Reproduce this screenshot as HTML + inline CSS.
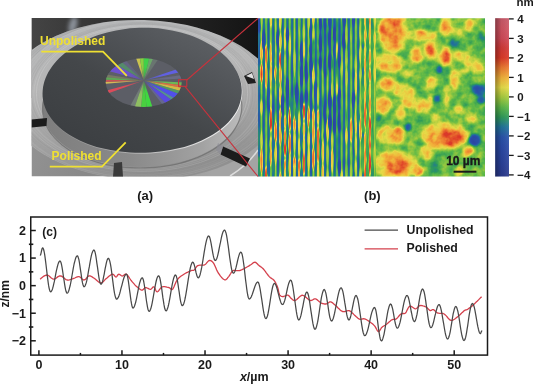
<!DOCTYPE html>
<html><head><meta charset="utf-8"><style>
html,body{margin:0;padding:0;background:#fff;width:533px;height:384px;overflow:hidden}
svg{display:block;position:absolute;left:0;top:0;will-change:transform}
text{font-family:"Liberation Sans",sans-serif;font-weight:bold;fill:#1a1a1a}
.t12{font-size:12.5px}
.t11{font-size:11.5px}
.ylab{font-size:12px;fill:#efe032}
</style></head><body>
<svg width="533" height="384" viewBox="0 0 533 384">
<defs>
<clipPath id="pclip"><rect x="31.5" y="18" width="226.5" height="158.5"/></clipPath><radialGradient id="cfade"><stop offset="0" stop-color="#5c5e66" stop-opacity="0.8"/><stop offset="0.3" stop-color="#5c5e66" stop-opacity="0.3"/><stop offset="0.7" stop-color="#5c5e66" stop-opacity="0"/></radialGradient><linearGradient id="rimg" x1="0" y1="0" x2="1" y2="0"><stop offset="0" stop-color="#8a8a8a"/><stop offset="0.45" stop-color="#b0b0b0"/><stop offset="0.8" stop-color="#e0e0e0"/><stop offset="1" stop-color="#f0f0f0"/></linearGradient><filter id="blur05" x="-10%" y="-10%" width="120%" height="120%"><feGaussianBlur stdDeviation="0.6"/></filter><clipPath id="ringclip"><ellipse cx="141.9" cy="100" rx="138.1" ry="80" transform="rotate(1.5 141.9 100)"/></clipPath><clipPath id="cclip"><ellipse cx="143.7" cy="82.6" rx="38" ry="24.3"/></clipPath><filter id="blur3" x="-100%" y="-100%" width="300%" height="300%"><feGaussianBlur stdDeviation="2.2"/></filter><linearGradient id="darkg" x1="0" y1="0" x2="1" y2="0"><stop offset="0" stop-color="#444444"/><stop offset="0.4" stop-color="#2e2e2e"/><stop offset="1" stop-color="#141414"/></linearGradient><linearGradient id="baseg" x1="0" y1="0" x2="1" y2="0.3"><stop offset="0" stop-color="#9a9a9a"/><stop offset="0.5" stop-color="#888888"/><stop offset="1" stop-color="#a4a4a4"/></linearGradient><linearGradient id="ringg" x1="0" y1="0" x2="0.3" y2="1"><stop offset="0" stop-color="#b2b4b6"/><stop offset="0.45" stop-color="#b6b6b6"/><stop offset="0.8" stop-color="#a0a0a0"/><stop offset="1" stop-color="#909090"/></linearGradient><linearGradient id="sideg" x1="0" y1="0" x2="1" y2="0"><stop offset="0" stop-color="#7e7e7e"/><stop offset="0.45" stop-color="#8a8a8a"/><stop offset="0.8" stop-color="#a2a2a2"/><stop offset="1" stop-color="#bcbcbc"/></linearGradient><linearGradient id="diskg" x1="0.15" y1="0.9" x2="0.85" y2="0.1"><stop offset="0" stop-color="#3c3f42"/><stop offset="0.45" stop-color="#44474a"/><stop offset="0.8" stop-color="#53565a"/><stop offset="1" stop-color="#5c5f63"/></linearGradient>
<linearGradient id="sg" x1="0" y1="0" x2="1" y2="0"><stop offset="0" stop-color="#363636"/><stop offset="0.25" stop-color="#636363"/><stop offset="0.5" stop-color="#808080"/><stop offset="0.75" stop-color="#636363"/><stop offset="1" stop-color="#363636"/></linearGradient><pattern id="stripes" patternUnits="userSpaceOnUse" x="259.1" y="0" width="4.72" height="200"><rect width="4.72" height="200" fill="url(#sg)"/></pattern>
<linearGradient id="cbg" x1="0" y1="0" x2="0" y2="1"><stop offset="0.0000" stop-color="#c85a6a"/><stop offset="0.0625" stop-color="#d05462"/><stop offset="0.1250" stop-color="#d04a58"/><stop offset="0.1875" stop-color="#d23a38"/><stop offset="0.2500" stop-color="#dc3a28"/><stop offset="0.3125" stop-color="#ec7a30"/><stop offset="0.3750" stop-color="#f2b23a"/><stop offset="0.4375" stop-color="#e6dc48"/><stop offset="0.5000" stop-color="#a6cc3e"/><stop offset="0.5625" stop-color="#5db848"/><stop offset="0.6250" stop-color="#2f9b5a"/><stop offset="0.6875" stop-color="#21749a"/><stop offset="0.7500" stop-color="#2953aa"/><stop offset="0.8125" stop-color="#2a4aa6"/><stop offset="0.8750" stop-color="#2a449e"/><stop offset="0.9375" stop-color="#2a3f96"/><stop offset="1.0000" stop-color="#2b3a8c"/></linearGradient><linearGradient id="cbs" x1="0" y1="0" x2="1" y2="0"><stop offset="0" stop-color="#000" stop-opacity="0.35"/><stop offset="0.45" stop-color="#000" stop-opacity="0.05"/><stop offset="1" stop-color="#fff" stop-opacity="0.08"/></linearGradient>
<clipPath id="hclipS"><rect x="258" y="18.2" width="118" height="158.3"/></clipPath>
<clipPath id="hclipB"><rect x="376" y="18.2" width="109" height="158.3"/></clipPath>
<filter id="soft" x="-100%" y="-100%" width="300%" height="300%"><feGaussianBlur stdDeviation="5"/></filter>
<filter id="cmapS" filterUnits="userSpaceOnUse" x="250" y="10" width="135" height="175" color-interpolation-filters="sRGB">
<feGaussianBlur stdDeviation="0.6 1.4" result="b"/>
<feTurbulence type="fractalNoise" baseFrequency="0.2 0.07" numOctaves="2" seed="5" result="n"/>
<feColorMatrix in="n" type="matrix" values="1 0 0 0 0  1 0 0 0 0  1 0 0 0 0  0 0 0 0 1" result="ng"/>
<feComposite in="b" in2="ng" operator="arithmetic" k1="0" k2="1" k3="0.12" k4="-0.06"/>
<feComponentTransfer>
<feFuncR type="table" tableValues="0.169 0.165 0.165 0.165 0.161 0.129 0.184 0.365 0.651 0.902 0.949 0.925 0.863 0.824 0.816 0.816 0.784"/>
<feFuncG type="table" tableValues="0.227 0.247 0.267 0.290 0.325 0.455 0.608 0.722 0.800 0.863 0.698 0.478 0.227 0.227 0.290 0.329 0.353"/>
<feFuncB type="table" tableValues="0.549 0.588 0.620 0.651 0.667 0.604 0.353 0.282 0.243 0.282 0.227 0.188 0.157 0.220 0.345 0.384 0.416"/>
</feComponentTransfer>
</filter>
<filter id="cmapB" filterUnits="userSpaceOnUse" x="365" y="10" width="130" height="175" color-interpolation-filters="sRGB">
<feGaussianBlur stdDeviation="1.8" result="b"/>
<feTurbulence type="fractalNoise" baseFrequency="0.12" numOctaves="3" seed="2" result="n"/>
<feColorMatrix in="n" type="matrix" values="1 0 0 0 0  1 0 0 0 0  1 0 0 0 0  0 0 0 0 1" result="ng"/>
<feComposite in="b" in2="ng" operator="arithmetic" k1="0" k2="1" k3="0.2" k4="-0.1"/>
<feComponentTransfer>
<feFuncR type="table" tableValues="0.169 0.165 0.165 0.165 0.161 0.129 0.184 0.365 0.651 0.902 0.949 0.925 0.863 0.824 0.816 0.816 0.784"/>
<feFuncG type="table" tableValues="0.227 0.247 0.267 0.290 0.325 0.455 0.608 0.722 0.800 0.863 0.698 0.478 0.227 0.227 0.290 0.329 0.353"/>
<feFuncB type="table" tableValues="0.549 0.588 0.620 0.651 0.667 0.604 0.353 0.282 0.243 0.282 0.227 0.188 0.157 0.220 0.345 0.384 0.416"/>
</feComponentTransfer>
</filter>
</defs>
<g clip-path="url(#hclipS)"><g filter="url(#cmapS)">
<rect x="254" y="14.2" width="126" height="166.3" fill="url(#stripes)"/>
<ellipse cx="333" cy="35" rx="14" ry="20" fill="#393939" opacity="0.4" filter="url(#soft)"/>
<ellipse cx="300" cy="105" rx="45" ry="12" fill="#393939" opacity="0.35" filter="url(#soft)"/>
<ellipse cx="335" cy="140" rx="8" ry="30" fill="#404040" opacity="0.3" filter="url(#soft)"/>
<ellipse cx="372" cy="95" rx="6" ry="80" fill="#868686" opacity="0.5" filter="url(#soft)"/>
<ellipse cx="254.38" cy="138.8" rx="1.7" ry="10.3" fill="#4d4d4d"/>
<ellipse cx="254.38" cy="160.0" rx="1.7" ry="6.4" fill="#515151"/>
<ellipse cx="256.74" cy="18.2" rx="1.3" ry="10.5" fill="#8d8d8d"/>
<ellipse cx="256.74" cy="57.4" rx="1.3" ry="11.9" fill="#9b9b9b"/>
<ellipse cx="256.74" cy="80.8" rx="1.3" ry="8.0" fill="#b1b1b1"/>
<ellipse cx="256.74" cy="97.1" rx="1.3" ry="11.9" fill="#989898"/>
<ellipse cx="256.74" cy="122.5" rx="1.3" ry="6.0" fill="#b8b8b8"/>
<ellipse cx="256.74" cy="134.9" rx="1.3" ry="12.9" fill="#909090"/>
<ellipse cx="256.74" cy="161.5" rx="1.3" ry="11.4" fill="#909090"/>
<ellipse cx="259.10" cy="21.7" rx="1.7" ry="11.3" fill="#313131"/>
<ellipse cx="259.10" cy="75.4" rx="1.7" ry="11.1" fill="#595959"/>
<ellipse cx="259.10" cy="140.2" rx="1.7" ry="12.2" fill="#545454"/>
<ellipse cx="259.10" cy="166.2" rx="1.7" ry="10.5" fill="#5f5f5f"/>
<ellipse cx="261.46" cy="16.1" rx="1.3" ry="11.4" fill="#808080"/>
<ellipse cx="261.46" cy="51.1" rx="1.3" ry="10.2" fill="#a2a2a2"/>
<ellipse cx="261.46" cy="73.4" rx="1.3" ry="9.4" fill="#b6b6b6"/>
<ellipse cx="261.46" cy="107.3" rx="1.3" ry="7.7" fill="#909090"/>
<ellipse cx="261.46" cy="141.0" rx="1.3" ry="10.2" fill="#919191"/>
<ellipse cx="261.46" cy="160.6" rx="1.3" ry="12.7" fill="#aeaeae"/>
<ellipse cx="263.82" cy="40.5" rx="1.7" ry="11.0" fill="#313131"/>
<ellipse cx="266.18" cy="18.7" rx="1.3" ry="7.0" fill="#777777"/>
<ellipse cx="266.18" cy="55.2" rx="1.3" ry="10.5" fill="#afafaf"/>
<ellipse cx="266.18" cy="76.1" rx="1.3" ry="13.0" fill="#a6a6a6"/>
<ellipse cx="266.18" cy="175.4" rx="1.3" ry="8.9" fill="#b6b6b6"/>
<ellipse cx="268.54" cy="99.4" rx="1.7" ry="11.9" fill="#3b3b3b"/>
<ellipse cx="268.54" cy="164.9" rx="1.7" ry="12.4" fill="#4d4d4d"/>
<ellipse cx="270.90" cy="19.4" rx="1.3" ry="7.4" fill="#969696"/>
<ellipse cx="270.90" cy="53.4" rx="1.3" ry="10.7" fill="#a1a1a1"/>
<ellipse cx="270.90" cy="76.1" rx="1.3" ry="12.4" fill="#9f9f9f"/>
<ellipse cx="270.90" cy="101.7" rx="1.3" ry="8.2" fill="#878787"/>
<ellipse cx="270.90" cy="119.6" rx="1.3" ry="11.9" fill="#bababa"/>
<ellipse cx="270.90" cy="143.4" rx="1.3" ry="7.2" fill="#999999"/>
<ellipse cx="270.90" cy="157.4" rx="1.3" ry="8.9" fill="#a4a4a4"/>
<ellipse cx="273.26" cy="48.0" rx="1.7" ry="11.5" fill="#4f4f4f"/>
<ellipse cx="273.26" cy="83.5" rx="1.7" ry="7.0" fill="#595959"/>
<ellipse cx="273.26" cy="145.1" rx="1.7" ry="9.3" fill="#4d4d4d"/>
<ellipse cx="273.26" cy="164.2" rx="1.7" ry="11.0" fill="#525252"/>
<ellipse cx="275.62" cy="73.7" rx="1.3" ry="6.9" fill="#aaaaaa"/>
<ellipse cx="275.62" cy="131.8" rx="1.3" ry="10.6" fill="#afafaf"/>
<ellipse cx="275.62" cy="154.3" rx="1.3" ry="10.5" fill="#969696"/>
<ellipse cx="277.98" cy="38.4" rx="1.7" ry="8.4" fill="#353535"/>
<ellipse cx="277.98" cy="77.7" rx="1.7" ry="11.7" fill="#5c5c5c"/>
<ellipse cx="280.34" cy="19.8" rx="1.3" ry="10.5" fill="#949494"/>
<ellipse cx="280.34" cy="41.5" rx="1.3" ry="8.2" fill="#949494"/>
<ellipse cx="280.34" cy="59.5" rx="1.3" ry="7.5" fill="#bbbbbb"/>
<ellipse cx="280.34" cy="75.0" rx="1.3" ry="10.0" fill="#a6a6a6"/>
<ellipse cx="280.34" cy="95.5" rx="1.3" ry="10.2" fill="#989898"/>
<ellipse cx="280.34" cy="116.6" rx="1.3" ry="8.8" fill="#a7a7a7"/>
<ellipse cx="280.34" cy="134.6" rx="1.3" ry="10.8" fill="#a6a6a6"/>
<ellipse cx="280.34" cy="181.8" rx="1.3" ry="9.3" fill="#a1a1a1"/>
<ellipse cx="282.70" cy="59.5" rx="1.7" ry="11.5" fill="#505050"/>
<ellipse cx="282.70" cy="103.8" rx="1.7" ry="10.3" fill="#3b3b3b"/>
<ellipse cx="282.70" cy="123.8" rx="1.7" ry="9.6" fill="#505050"/>
<ellipse cx="282.70" cy="161.9" rx="1.7" ry="9.7" fill="#505050"/>
<ellipse cx="285.06" cy="39.4" rx="1.3" ry="12.0" fill="#909090"/>
<ellipse cx="285.06" cy="64.8" rx="1.3" ry="12.3" fill="#818181"/>
<ellipse cx="285.06" cy="107.9" rx="1.3" ry="6.9" fill="#6e6e6e"/>
<ellipse cx="285.06" cy="121.6" rx="1.3" ry="6.7" fill="#a0a0a0"/>
<ellipse cx="285.06" cy="136.3" rx="1.3" ry="6.9" fill="#adadad"/>
<ellipse cx="285.06" cy="149.1" rx="1.3" ry="7.4" fill="#b8b8b8"/>
<ellipse cx="285.06" cy="165.8" rx="1.3" ry="6.8" fill="#b0b0b0"/>
<ellipse cx="285.06" cy="179.9" rx="1.3" ry="10.8" fill="#909090"/>
<ellipse cx="287.42" cy="34.7" rx="1.7" ry="7.0" fill="#313131"/>
<ellipse cx="287.42" cy="88.7" rx="1.7" ry="11.4" fill="#2e2e2e"/>
<ellipse cx="287.42" cy="168.9" rx="1.7" ry="7.4" fill="#565656"/>
<ellipse cx="289.78" cy="46.0" rx="1.3" ry="10.4" fill="#8b8b8b"/>
<ellipse cx="289.78" cy="118.9" rx="1.3" ry="11.7" fill="#b7b7b7"/>
<ellipse cx="289.78" cy="143.9" rx="1.3" ry="10.9" fill="#b1b1b1"/>
<ellipse cx="289.78" cy="165.9" rx="1.3" ry="11.1" fill="#9d9d9d"/>
<ellipse cx="292.14" cy="109.4" rx="1.7" ry="12.9" fill="#585858"/>
<ellipse cx="294.50" cy="61.6" rx="1.3" ry="12.5" fill="#868686"/>
<ellipse cx="294.50" cy="86.2" rx="1.3" ry="9.5" fill="#616161"/>
<ellipse cx="294.50" cy="106.9" rx="1.3" ry="8.9" fill="#6b6b6b"/>
<ellipse cx="294.50" cy="124.9" rx="1.3" ry="8.0" fill="#a7a7a7"/>
<ellipse cx="294.50" cy="140.8" rx="1.3" ry="11.0" fill="#8d8d8d"/>
<ellipse cx="294.50" cy="162.5" rx="1.3" ry="6.3" fill="#b0b0b0"/>
<ellipse cx="294.50" cy="175.3" rx="1.3" ry="12.3" fill="#8f8f8f"/>
<ellipse cx="296.86" cy="93.8" rx="1.7" ry="10.2" fill="#303030"/>
<ellipse cx="296.86" cy="114.6" rx="1.7" ry="7.4" fill="#575757"/>
<ellipse cx="299.22" cy="21.6" rx="1.3" ry="11.1" fill="#7a7a7a"/>
<ellipse cx="299.22" cy="68.6" rx="1.3" ry="7.9" fill="#6a6a6a"/>
<ellipse cx="299.22" cy="122.9" rx="1.3" ry="12.2" fill="#8f8f8f"/>
<ellipse cx="299.22" cy="147.0" rx="1.3" ry="9.0" fill="#919191"/>
<ellipse cx="299.22" cy="165.6" rx="1.3" ry="6.5" fill="#adadad"/>
<ellipse cx="299.22" cy="179.2" rx="1.3" ry="10.4" fill="#a3a3a3"/>
<ellipse cx="301.58" cy="52.9" rx="1.7" ry="11.4" fill="#2d2d2d"/>
<ellipse cx="301.58" cy="75.5" rx="1.7" ry="11.7" fill="#313131"/>
<ellipse cx="301.58" cy="100.8" rx="1.7" ry="8.3" fill="#323232"/>
<ellipse cx="301.58" cy="136.4" rx="1.7" ry="12.1" fill="#4e4e4e"/>
<ellipse cx="301.58" cy="180.0" rx="1.7" ry="11.4" fill="#515151"/>
<ellipse cx="303.94" cy="32.0" rx="1.3" ry="8.0" fill="#828282"/>
<ellipse cx="303.94" cy="49.1" rx="1.3" ry="8.6" fill="#8f8f8f"/>
<ellipse cx="303.94" cy="111.6" rx="1.3" ry="8.2" fill="#b9b9b9"/>
<ellipse cx="303.94" cy="129.7" rx="1.3" ry="7.7" fill="#9e9e9e"/>
<ellipse cx="303.94" cy="145.3" rx="1.3" ry="8.8" fill="#969696"/>
<ellipse cx="303.94" cy="163.5" rx="1.3" ry="11.6" fill="#b4b4b4"/>
<ellipse cx="306.30" cy="71.7" rx="1.7" ry="11.6" fill="#2f2f2f"/>
<ellipse cx="306.30" cy="96.3" rx="1.7" ry="6.6" fill="#323232"/>
<ellipse cx="308.66" cy="21.7" rx="1.3" ry="10.7" fill="#898989"/>
<ellipse cx="308.66" cy="66.5" rx="1.3" ry="11.8" fill="#707070"/>
<ellipse cx="308.66" cy="117.0" rx="1.3" ry="10.5" fill="#aeaeae"/>
<ellipse cx="308.66" cy="139.4" rx="1.3" ry="9.0" fill="#939393"/>
<ellipse cx="308.66" cy="158.5" rx="1.3" ry="12.9" fill="#949494"/>
<ellipse cx="311.02" cy="32.7" rx="1.7" ry="8.2" fill="#393939"/>
<ellipse cx="311.02" cy="50.3" rx="1.7" ry="7.3" fill="#353535"/>
<ellipse cx="311.02" cy="65.6" rx="1.7" ry="12.4" fill="#282828"/>
<ellipse cx="311.02" cy="125.9" rx="1.7" ry="8.0" fill="#5b5b5b"/>
<ellipse cx="313.38" cy="17.9" rx="1.3" ry="7.5" fill="#979797"/>
<ellipse cx="313.38" cy="34.4" rx="1.3" ry="8.7" fill="#888888"/>
<ellipse cx="313.38" cy="51.6" rx="1.3" ry="12.9" fill="#646464"/>
<ellipse cx="313.38" cy="76.5" rx="1.3" ry="9.3" fill="#929292"/>
<ellipse cx="313.38" cy="96.2" rx="1.3" ry="10.2" fill="#7b7b7b"/>
<ellipse cx="313.38" cy="116.7" rx="1.3" ry="7.8" fill="#a5a5a5"/>
<ellipse cx="313.38" cy="133.2" rx="1.3" ry="13.0" fill="#a6a6a6"/>
<ellipse cx="313.38" cy="158.6" rx="1.3" ry="11.4" fill="#b4b4b4"/>
<ellipse cx="315.74" cy="92.1" rx="1.7" ry="12.4" fill="#3c3c3c"/>
<ellipse cx="318.10" cy="14.8" rx="1.3" ry="8.8" fill="#727272"/>
<ellipse cx="318.10" cy="33.9" rx="1.3" ry="10.6" fill="#676767"/>
<ellipse cx="318.10" cy="56.1" rx="1.3" ry="7.7" fill="#686868"/>
<ellipse cx="318.10" cy="96.0" rx="1.3" ry="10.3" fill="#838383"/>
<ellipse cx="318.10" cy="117.2" rx="1.3" ry="8.1" fill="#9f9f9f"/>
<ellipse cx="318.10" cy="134.4" rx="1.3" ry="7.8" fill="#afafaf"/>
<ellipse cx="318.10" cy="150.0" rx="1.3" ry="12.6" fill="#afafaf"/>
<ellipse cx="318.10" cy="175.2" rx="1.3" ry="11.8" fill="#939393"/>
<ellipse cx="320.46" cy="19.4" rx="1.7" ry="11.0" fill="#2d2d2d"/>
<ellipse cx="320.46" cy="42.8" rx="1.7" ry="10.1" fill="#2a2a2a"/>
<ellipse cx="320.46" cy="62.6" rx="1.7" ry="6.9" fill="#272727"/>
<ellipse cx="322.82" cy="19.2" rx="1.3" ry="6.7" fill="#696969"/>
<ellipse cx="322.82" cy="34.1" rx="1.3" ry="11.8" fill="#636363"/>
<ellipse cx="322.82" cy="58.9" rx="1.3" ry="12.3" fill="#666666"/>
<ellipse cx="322.82" cy="136.4" rx="1.3" ry="7.4" fill="#7f7f7f"/>
<ellipse cx="322.82" cy="151.9" rx="1.3" ry="10.9" fill="#979797"/>
<ellipse cx="322.82" cy="173.7" rx="1.3" ry="9.2" fill="#989898"/>
<ellipse cx="325.18" cy="21.2" rx="1.7" ry="9.8" fill="#2f2f2f"/>
<ellipse cx="325.18" cy="66.8" rx="1.7" ry="10.2" fill="#333333"/>
<ellipse cx="325.18" cy="112.4" rx="1.7" ry="11.8" fill="#2f2f2f"/>
<ellipse cx="325.18" cy="135.2" rx="1.7" ry="6.2" fill="#404040"/>
<ellipse cx="327.54" cy="20.4" rx="1.3" ry="6.1" fill="#696969"/>
<ellipse cx="327.54" cy="32.1" rx="1.3" ry="8.7" fill="#636363"/>
<ellipse cx="327.54" cy="65.7" rx="1.3" ry="10.5" fill="#6c6c6c"/>
<ellipse cx="327.54" cy="112.0" rx="1.3" ry="8.9" fill="#6d6d6d"/>
<ellipse cx="327.54" cy="131.0" rx="1.3" ry="11.3" fill="#999999"/>
<ellipse cx="327.54" cy="155.1" rx="1.3" ry="12.0" fill="#858585"/>
<ellipse cx="327.54" cy="179.7" rx="1.3" ry="12.3" fill="#888888"/>
<ellipse cx="329.90" cy="21.2" rx="1.7" ry="8.2" fill="#323232"/>
<ellipse cx="329.90" cy="39.4" rx="1.7" ry="11.1" fill="#323232"/>
<ellipse cx="329.90" cy="61.6" rx="1.7" ry="10.2" fill="#282828"/>
<ellipse cx="329.90" cy="100.4" rx="1.7" ry="10.9" fill="#2a2a2a"/>
<ellipse cx="329.90" cy="122.1" rx="1.7" ry="8.8" fill="#272727"/>
<ellipse cx="332.26" cy="39.2" rx="1.3" ry="11.5" fill="#6a6a6a"/>
<ellipse cx="332.26" cy="64.1" rx="1.3" ry="6.0" fill="#656565"/>
<ellipse cx="332.26" cy="90.5" rx="1.3" ry="8.8" fill="#8a8a8a"/>
<ellipse cx="332.26" cy="140.4" rx="1.3" ry="9.3" fill="#808080"/>
<ellipse cx="332.26" cy="160.8" rx="1.3" ry="12.3" fill="#939393"/>
<ellipse cx="334.62" cy="34.2" rx="1.7" ry="7.4" fill="#292929"/>
<ellipse cx="334.62" cy="50.6" rx="1.7" ry="6.4" fill="#3b3b3b"/>
<ellipse cx="334.62" cy="104.7" rx="1.7" ry="9.1" fill="#2a2a2a"/>
<ellipse cx="334.62" cy="122.9" rx="1.7" ry="11.0" fill="#292929"/>
<ellipse cx="336.98" cy="33.0" rx="1.3" ry="7.9" fill="#616161"/>
<ellipse cx="336.98" cy="50.9" rx="1.3" ry="9.1" fill="#898989"/>
<ellipse cx="336.98" cy="68.2" rx="1.3" ry="10.2" fill="#646464"/>
<ellipse cx="336.98" cy="90.0" rx="1.3" ry="6.6" fill="#909090"/>
<ellipse cx="336.98" cy="102.9" rx="1.3" ry="8.0" fill="#636363"/>
<ellipse cx="336.98" cy="120.5" rx="1.3" ry="12.9" fill="#686868"/>
<ellipse cx="339.34" cy="57.1" rx="1.7" ry="11.5" fill="#303030"/>
<ellipse cx="339.34" cy="99.2" rx="1.7" ry="11.5" fill="#2e2e2e"/>
<ellipse cx="339.34" cy="122.0" rx="1.7" ry="10.1" fill="#272727"/>
<ellipse cx="339.34" cy="166.5" rx="1.7" ry="7.3" fill="#2d2d2d"/>
<ellipse cx="341.70" cy="53.4" rx="1.3" ry="7.0" fill="#777777"/>
<ellipse cx="341.70" cy="67.4" rx="1.3" ry="10.3" fill="#7f7f7f"/>
<ellipse cx="341.70" cy="101.6" rx="1.3" ry="7.8" fill="#6d6d6d"/>
<ellipse cx="341.70" cy="118.7" rx="1.3" ry="11.5" fill="#676767"/>
<ellipse cx="341.70" cy="176.8" rx="1.3" ry="7.0" fill="#909090"/>
<ellipse cx="344.06" cy="15.9" rx="1.7" ry="12.2" fill="#2d2d2d"/>
<ellipse cx="344.06" cy="40.3" rx="1.7" ry="9.0" fill="#272727"/>
<ellipse cx="346.42" cy="35.3" rx="1.3" ry="11.5" fill="#828282"/>
<ellipse cx="346.42" cy="57.8" rx="1.3" ry="9.8" fill="#7d7d7d"/>
<ellipse cx="346.42" cy="77.2" rx="1.3" ry="9.3" fill="#868686"/>
<ellipse cx="346.42" cy="118.8" rx="1.3" ry="8.7" fill="#6d6d6d"/>
<ellipse cx="346.42" cy="136.3" rx="1.3" ry="7.9" fill="#959595"/>
<ellipse cx="346.42" cy="170.5" rx="1.3" ry="7.9" fill="#7b7b7b"/>
<ellipse cx="351.14" cy="34.3" rx="1.3" ry="8.0" fill="#7e7e7e"/>
<ellipse cx="351.14" cy="130.4" rx="1.3" ry="12.1" fill="#aaaaaa"/>
<ellipse cx="351.14" cy="153.8" rx="1.3" ry="9.0" fill="#787878"/>
<ellipse cx="351.14" cy="171.9" rx="1.3" ry="8.3" fill="#808080"/>
<ellipse cx="353.50" cy="17.2" rx="1.7" ry="9.3" fill="#393939"/>
<ellipse cx="353.50" cy="99.9" rx="1.7" ry="8.8" fill="#363636"/>
<ellipse cx="355.86" cy="64.2" rx="1.3" ry="8.9" fill="#808080"/>
<ellipse cx="355.86" cy="83.4" rx="1.3" ry="12.2" fill="#969696"/>
<ellipse cx="355.86" cy="106.9" rx="1.3" ry="7.0" fill="#818181"/>
<ellipse cx="355.86" cy="120.9" rx="1.3" ry="12.8" fill="#959595"/>
<ellipse cx="355.86" cy="146.2" rx="1.3" ry="10.8" fill="#8c8c8c"/>
<ellipse cx="355.86" cy="168.4" rx="1.3" ry="8.8" fill="#878787"/>
<ellipse cx="358.22" cy="115.4" rx="1.7" ry="11.8" fill="#585858"/>
<ellipse cx="360.58" cy="18.1" rx="1.3" ry="6.9" fill="#787878"/>
<ellipse cx="360.58" cy="31.2" rx="1.3" ry="10.9" fill="#868686"/>
<ellipse cx="360.58" cy="54.4" rx="1.3" ry="9.4" fill="#949494"/>
<ellipse cx="360.58" cy="74.7" rx="1.3" ry="6.4" fill="#888888"/>
<ellipse cx="360.58" cy="106.1" rx="1.3" ry="11.0" fill="#828282"/>
<ellipse cx="360.58" cy="129.4" rx="1.3" ry="11.9" fill="#a7a7a7"/>
<ellipse cx="360.58" cy="176.8" rx="1.3" ry="11.6" fill="#838383"/>
<ellipse cx="362.94" cy="15.8" rx="1.7" ry="7.3" fill="#666666"/>
<ellipse cx="362.94" cy="32.3" rx="1.7" ry="12.8" fill="#676767"/>
<ellipse cx="362.94" cy="58.1" rx="1.7" ry="10.4" fill="#6b6b6b"/>
<ellipse cx="362.94" cy="80.9" rx="1.7" ry="6.3" fill="#5e5e5e"/>
<ellipse cx="362.94" cy="92.7" rx="1.7" ry="8.0" fill="#6c6c6c"/>
<ellipse cx="362.94" cy="108.1" rx="1.7" ry="8.3" fill="#656565"/>
<ellipse cx="362.94" cy="125.2" rx="1.7" ry="8.6" fill="#696969"/>
<ellipse cx="362.94" cy="143.9" rx="1.7" ry="8.0" fill="#666666"/>
<ellipse cx="362.94" cy="161.2" rx="1.7" ry="12.9" fill="#676767"/>
<ellipse cx="365.30" cy="20.4" rx="1.3" ry="7.0" fill="#979797"/>
<ellipse cx="365.30" cy="36.3" rx="1.3" ry="7.8" fill="#989898"/>
<ellipse cx="365.30" cy="51.7" rx="1.3" ry="6.1" fill="#999999"/>
<ellipse cx="365.30" cy="64.9" rx="1.3" ry="7.9" fill="#a7a7a7"/>
<ellipse cx="365.30" cy="80.8" rx="1.3" ry="7.8" fill="#959595"/>
<ellipse cx="365.30" cy="98.1" rx="1.3" ry="8.2" fill="#9a9a9a"/>
<ellipse cx="365.30" cy="114.9" rx="1.3" ry="13.0" fill="#b7b7b7"/>
<ellipse cx="365.30" cy="141.3" rx="1.3" ry="8.9" fill="#a3a3a3"/>
<ellipse cx="365.30" cy="158.3" rx="1.3" ry="9.9" fill="#acacac"/>
<ellipse cx="365.30" cy="177.8" rx="1.3" ry="12.6" fill="#bcbcbc"/>
<ellipse cx="367.66" cy="20.7" rx="1.7" ry="11.1" fill="#5d5d5d"/>
<ellipse cx="367.66" cy="42.3" rx="1.7" ry="6.8" fill="#626262"/>
<ellipse cx="367.66" cy="57.2" rx="1.7" ry="8.2" fill="#5d5d5d"/>
<ellipse cx="367.66" cy="73.2" rx="1.7" ry="12.7" fill="#656565"/>
<ellipse cx="367.66" cy="100.1" rx="1.7" ry="11.5" fill="#636363"/>
<ellipse cx="367.66" cy="124.6" rx="1.7" ry="11.8" fill="#6c6c6c"/>
<ellipse cx="367.66" cy="147.5" rx="1.7" ry="12.7" fill="#686868"/>
<ellipse cx="367.66" cy="172.5" rx="1.7" ry="12.4" fill="#666666"/>
<ellipse cx="370.02" cy="17.1" rx="1.3" ry="8.6" fill="#b4b4b4"/>
<ellipse cx="370.02" cy="34.4" rx="1.3" ry="10.5" fill="#9e9e9e"/>
<ellipse cx="370.02" cy="57.0" rx="1.3" ry="8.3" fill="#a0a0a0"/>
<ellipse cx="370.02" cy="74.7" rx="1.3" ry="7.5" fill="#a9a9a9"/>
<ellipse cx="370.02" cy="90.7" rx="1.3" ry="7.2" fill="#999999"/>
<ellipse cx="370.02" cy="105.3" rx="1.3" ry="9.0" fill="#a7a7a7"/>
<ellipse cx="370.02" cy="123.5" rx="1.3" ry="8.3" fill="#bababa"/>
<ellipse cx="370.02" cy="139.6" rx="1.3" ry="12.2" fill="#b2b2b2"/>
<ellipse cx="370.02" cy="163.3" rx="1.3" ry="12.9" fill="#bbbbbb"/>
<ellipse cx="372.38" cy="17.3" rx="1.7" ry="10.9" fill="#636363"/>
<ellipse cx="372.38" cy="40.2" rx="1.7" ry="12.6" fill="#626262"/>
<ellipse cx="372.38" cy="65.5" rx="1.7" ry="12.9" fill="#686868"/>
<ellipse cx="372.38" cy="91.5" rx="1.7" ry="10.5" fill="#676767"/>
<ellipse cx="372.38" cy="114.2" rx="1.7" ry="12.0" fill="#666666"/>
<ellipse cx="372.38" cy="138.9" rx="1.7" ry="6.8" fill="#686868"/>
<ellipse cx="372.38" cy="152.8" rx="1.7" ry="10.7" fill="#656565"/>
<ellipse cx="372.38" cy="173.8" rx="1.7" ry="10.2" fill="#666666"/>
<ellipse cx="374.74" cy="19.0" rx="1.3" ry="9.1" fill="#8b8b8b"/>
<ellipse cx="374.74" cy="39.1" rx="1.3" ry="7.1" fill="#929292"/>
<ellipse cx="374.74" cy="54.4" rx="1.3" ry="8.2" fill="#929292"/>
<ellipse cx="374.74" cy="71.0" rx="1.3" ry="12.1" fill="#929292"/>
<ellipse cx="374.74" cy="156.7" rx="1.3" ry="12.1" fill="#848484"/>
</g></g>
<g clip-path="url(#hclipB)"><g filter="url(#cmapB)">
<rect x="370" y="14.2" width="123" height="166.3" fill="#717171"/>
<ellipse cx="393" cy="32" rx="15" ry="18.75" fill="#939393"/>
<ellipse cx="398" cy="21" rx="8.75" ry="6.25" fill="#939393"/>
<ellipse cx="393" cy="45" rx="11.25" ry="7.5" fill="#939393"/>
<ellipse cx="390" cy="31" rx="11.88" ry="12.96" fill="#a9a9a9"/>
<ellipse cx="397" cy="22" rx="5.4" ry="4.32" fill="#afafaf"/>
<ellipse cx="384" cy="31" rx="4.32" ry="4.32" fill="#b2b2b2"/>
<ellipse cx="392" cy="44" rx="7.56" ry="5.4" fill="#a6a6a6"/>
<ellipse cx="421" cy="35" rx="15" ry="6.25" fill="#939393"/>
<ellipse cx="422" cy="33" rx="3.24" ry="3.24" fill="#a6a6a6"/>
<ellipse cx="417" cy="55" rx="7.5" ry="8.75" fill="#939393"/>
<ellipse cx="417" cy="55" rx="4.32" ry="5.4" fill="#acacac"/>
<ellipse cx="431" cy="50" rx="7.5" ry="10" fill="#939393"/>
<ellipse cx="431" cy="50" rx="4.32" ry="6.48" fill="#b2b2b2"/>
<ellipse cx="389" cy="63" rx="16.25" ry="8.75" fill="#939393"/>
<ellipse cx="383" cy="65" rx="4.32" ry="3.24" fill="#a9a9a9"/>
<ellipse cx="396" cy="65" rx="4.32" ry="3.24" fill="#a9a9a9"/>
<ellipse cx="408" cy="73" rx="6.25" ry="3.75" fill="#939393"/>
<ellipse cx="388" cy="84" rx="10" ry="7.5" fill="#939393"/>
<ellipse cx="388" cy="84" rx="6.48" ry="4.32" fill="#acacac"/>
<ellipse cx="401" cy="90" rx="8.75" ry="6.25" fill="#939393"/>
<ellipse cx="409" cy="92" rx="6.25" ry="5" fill="#939393"/>
<ellipse cx="445.5" cy="26" rx="6.25" ry="11.25" fill="#939393"/>
<ellipse cx="445.7" cy="26" rx="3.24" ry="5.4" fill="#a6a6a6"/>
<ellipse cx="455" cy="31" rx="7.5" ry="3.75" fill="#939393"/>
<ellipse cx="469.7" cy="25" rx="5" ry="7.5" fill="#939393"/>
<ellipse cx="469.7" cy="24" rx="2.7" ry="3.78" fill="#a6a6a6"/>
<ellipse cx="446" cy="57" rx="7.5" ry="10" fill="#939393"/>
<ellipse cx="446" cy="57" rx="4.32" ry="6.48" fill="#b6b6b6"/>
<ellipse cx="461" cy="56" rx="8.75" ry="5" fill="#939393"/>
<ellipse cx="470" cy="62" rx="8.75" ry="5" fill="#939393"/>
<ellipse cx="478" cy="69" rx="7.5" ry="5" fill="#939393"/>
<ellipse cx="455" cy="79" rx="5" ry="10" fill="#939393"/>
<ellipse cx="432" cy="83" rx="5" ry="6.25" fill="#939393"/>
<ellipse cx="465" cy="70" rx="5" ry="2.5" fill="#939393"/>
<ellipse cx="447" cy="89" rx="3.125" ry="5" fill="#939393"/>
<ellipse cx="382" cy="105" rx="10" ry="10" fill="#939393"/>
<ellipse cx="382" cy="104" rx="5.4" ry="5.4" fill="#a6a6a6"/>
<ellipse cx="400" cy="113" rx="5" ry="7.5" fill="#939393"/>
<ellipse cx="413" cy="104" rx="11.25" ry="5" fill="#939393"/>
<ellipse cx="423" cy="106" rx="8.75" ry="7.5" fill="#939393"/>
<ellipse cx="407" cy="99" rx="7.5" ry="3.75" fill="#939393"/>
<ellipse cx="392" cy="135" rx="15" ry="10" fill="#939393"/>
<ellipse cx="397" cy="135" rx="5.4" ry="7.56" fill="#acacac"/>
<ellipse cx="385" cy="132" rx="6.25" ry="3.75" fill="#939393"/>
<ellipse cx="396" cy="165" rx="22.5" ry="15" fill="#939393"/>
<ellipse cx="397" cy="166" rx="9.72" ry="8.64" fill="#b9b9b9"/>
<ellipse cx="390" cy="160" rx="6.48" ry="4.32" fill="#a6a6a6"/>
<ellipse cx="405" cy="168" rx="5.4" ry="5.4" fill="#acacac"/>
<ellipse cx="426" cy="152" rx="7.5" ry="7.5" fill="#939393"/>
<ellipse cx="417" cy="171" rx="6.48" ry="5.4" fill="#a3a3a3"/>
<ellipse cx="445" cy="136" rx="23.75" ry="13.75" fill="#939393"/>
<ellipse cx="436" cy="120" rx="5" ry="6.25" fill="#939393"/>
<ellipse cx="450" cy="137" rx="11.88" ry="8.64" fill="#b9b9b9"/>
<ellipse cx="436" cy="137" rx="7.56" ry="7.56" fill="#a6a6a6"/>
<ellipse cx="458" cy="109" rx="5" ry="5" fill="#939393"/>
<ellipse cx="471" cy="118" rx="5" ry="5" fill="#939393"/>
<ellipse cx="446.7" cy="101" rx="3.125" ry="6.25" fill="#939393"/>
<ellipse cx="430" cy="101" rx="2.5" ry="6.25" fill="#939393"/>
<ellipse cx="468" cy="151" rx="6.25" ry="6.25" fill="#939393"/>
<ellipse cx="468" cy="151" rx="3.24" ry="3.24" fill="#a3a3a3"/>
<ellipse cx="467.6" cy="133.5" rx="2.5" ry="2.5" fill="#939393"/>
<ellipse cx="458" cy="172" rx="5" ry="5" fill="#939393"/>
<ellipse cx="454.5" cy="43" rx="4.5" ry="4" fill="#505050"/>
<ellipse cx="480.5" cy="38" rx="4.5" ry="5" fill="#565656"/>
<ellipse cx="439" cy="70" rx="3.5" ry="4" fill="#434343"/>
<ellipse cx="478.5" cy="90" rx="7" ry="6" fill="#464646"/>
<ellipse cx="408" cy="127" rx="3.5" ry="4" fill="#434343"/>
<ellipse cx="437" cy="99" rx="3.5" ry="3" fill="#494949"/>
<ellipse cx="481.5" cy="100" rx="4" ry="4" fill="#464646"/>
<ellipse cx="475" cy="140" rx="5.5" ry="5.5" fill="#2d2d2d"/>
<ellipse cx="434" cy="168" rx="6" ry="5" fill="#5c5c5c"/>
<ellipse cx="378" cy="117" rx="3" ry="5" fill="#595959"/>
</g></g>
<g clip-path="url(#pclip)">
<rect x="31.5" y="18" width="226.5" height="158.5" fill="url(#baseg)"/>
<rect x="31.5" y="18" width="226.5" height="80" fill="url(#darkg)"/>
<ellipse cx="73" cy="25" rx="4" ry="9" transform="rotate(15 73 25)" fill="#a8b0bc" opacity="0.75" filter="url(#blur3)"/>
<ellipse cx="141.9" cy="100" rx="138.1" ry="80" transform="rotate(1.5 141.9 100)" fill="url(#ringg)"/>
<g clip-path="url(#ringclip)">
<ellipse cx="142" cy="93.0" rx="103.0" ry="66.0" fill="none" stroke="#c4c4c4" stroke-width="1.1" opacity="0.18"/>
<ellipse cx="142" cy="93.3" rx="105.6" ry="67.2" fill="none" stroke="#e0e0e0" stroke-width="1.0" opacity="0.27"/>
<ellipse cx="142" cy="93.6" rx="108.2" ry="68.5" fill="none" stroke="#e0e0e0" stroke-width="0.6" opacity="0.32"/>
<ellipse cx="142" cy="93.9" rx="110.8" ry="69.8" fill="none" stroke="#8c8c8c" stroke-width="1.0" opacity="0.19"/>
<ellipse cx="142" cy="94.2" rx="113.4" ry="71.0" fill="none" stroke="#9a9a9a" stroke-width="1.0" opacity="0.26"/>
<ellipse cx="142" cy="94.5" rx="116.0" ry="72.2" fill="none" stroke="#9a9a9a" stroke-width="1.1" opacity="0.18"/>
<ellipse cx="142" cy="94.8" rx="118.6" ry="73.5" fill="none" stroke="#c4c4c4" stroke-width="1.3" opacity="0.25"/>
<ellipse cx="142" cy="95.1" rx="121.2" ry="74.8" fill="none" stroke="#d0d0d0" stroke-width="1.1" opacity="0.16"/>
<ellipse cx="142" cy="95.4" rx="123.8" ry="76.0" fill="none" stroke="#e0e0e0" stroke-width="0.6" opacity="0.31"/>
<ellipse cx="142" cy="95.7" rx="126.4" ry="77.2" fill="none" stroke="#8c8c8c" stroke-width="1.0" opacity="0.29"/>
<ellipse cx="142" cy="96.0" rx="129.0" ry="78.5" fill="none" stroke="#9a9a9a" stroke-width="1.2" opacity="0.33"/>
<ellipse cx="142" cy="96.3" rx="131.6" ry="79.8" fill="none" stroke="#9a9a9a" stroke-width="1.2" opacity="0.27"/>
<ellipse cx="142" cy="96.6" rx="134.2" ry="81.0" fill="none" stroke="#c4c4c4" stroke-width="1.3" opacity="0.17"/>
<ellipse cx="142" cy="96.9" rx="136.8" ry="82.2" fill="none" stroke="#c4c4c4" stroke-width="1.0" opacity="0.20"/>
</g>
<path d="M241.8,90.3 C241.8,92.3 241.7,94.4 241.4,96.4 C241.1,98.4 240.7,100.5 240.1,102.5 C239.5,104.5 238.8,106.5 237.9,108.4 C236.9,110.4 235.9,112.3 234.6,114.2 C233.4,116.1 232.0,118.0 230.5,119.8 C229.0,121.6 227.3,123.3 225.5,125.0 C223.7,126.7 221.7,128.4 219.6,130.0 C217.5,131.5 215.3,133.1 212.9,134.5 C210.6,135.9 208.1,137.3 205.5,138.6 C203.0,139.9 200.3,141.1 197.5,142.3 C194.7,143.4 191.8,144.5 188.8,145.4 C185.9,146.4 182.8,147.3 179.7,148.1 C176.6,148.8 173.4,149.5 170.2,150.1 C167.0,150.7 163.7,151.2 160.4,151.6 C157.1,152.0 153.7,152.3 150.4,152.5 C147.0,152.7 143.6,152.8 140.3,152.8 C136.9,152.8 133.5,152.7 130.2,152.5 C126.9,152.3 123.5,152.0 120.2,151.6 C117.0,151.2 113.7,150.7 110.5,150.1 C107.3,149.5 104.2,148.8 101.1,148.1 C98.1,147.3 95.1,146.4 92.2,145.4 C89.3,144.5 86.4,143.4 83.7,142.3 C81.0,141.1 78.4,139.9 75.9,138.6 C73.4,137.3 71.0,135.9 68.8,134.5 C66.5,133.1 64.4,131.5 62.4,130.0 C60.4,128.4 58.5,126.7 56.8,125.0 C55.1,123.3 53.5,121.6 52.1,119.8 C50.7,118.0 49.4,116.1 48.3,114.2 C47.2,112.3 46.2,110.4 45.4,108.4 C44.7,106.5 44.0,104.5 43.5,102.5 C43.1,100.5 42.8,98.4 42.6,96.4 C42.5,94.4 42.5,92.3 42.7,90.3 C42.8,88.2 43.2,86.2 43.7,84.1 C44.1,82.1 44.8,80.1 45.6,78.1 C46.4,76.1 47.4,74.1 48.4,72.1 C49.5,70.2 50.8,68.2 52.2,66.3 C53.6,64.4 55.1,62.6 56.7,60.8 C58.4,59.0 60.2,57.2 62.1,55.5 C64.0,53.8 66.0,52.2 68.1,50.6 C70.3,49.0 72.5,47.5 74.9,46.0 C77.2,44.6 79.7,43.2 82.2,41.9 C84.7,40.6 87.4,39.4 90.1,38.3 C92.8,37.1 95.6,36.1 98.4,35.1 C101.2,34.1 104.1,33.3 107.1,32.5 C110.0,31.7 113.1,31.0 116.1,30.4 C119.1,29.8 122.2,29.3 125.3,28.9 C128.4,28.5 131.6,28.2 134.7,28.0 C137.8,27.8 141.0,27.7 144.1,27.7 C147.3,27.7 150.4,27.8 153.6,28.0 C156.7,28.2 159.8,28.5 162.9,28.9 C166.0,29.3 169.0,29.8 172.0,30.4 C175.0,31.0 178.0,31.7 180.9,32.5 C183.8,33.3 186.7,34.1 189.4,35.1 C192.2,36.1 194.9,37.1 197.6,38.3 C200.2,39.4 202.7,40.6 205.2,41.9 C207.6,43.2 210.0,44.6 212.3,46.0 C214.5,47.5 216.7,49.0 218.7,50.6 C220.8,52.2 222.7,53.8 224.5,55.5 C226.3,57.2 228.0,59.0 229.5,60.8 C231.0,62.6 232.5,64.4 233.7,66.3 C235.0,68.2 236.1,70.2 237.1,72.1 C238.1,74.1 238.9,76.1 239.6,78.1 C240.3,80.1 240.8,82.1 241.1,84.1 C241.5,86.2 241.7,88.2 241.8,90.3Z" transform="translate(0,14)" fill="url(#sideg)"/>
<path d="M241.8,90.3 C241.8,92.3 241.7,94.4 241.4,96.4 C241.1,98.4 240.7,100.5 240.1,102.5 C239.5,104.5 238.8,106.5 237.9,108.4 C236.9,110.4 235.9,112.3 234.6,114.2 C233.4,116.1 232.0,118.0 230.5,119.8 C229.0,121.6 227.3,123.3 225.5,125.0 C223.7,126.7 221.7,128.4 219.6,130.0 C217.5,131.5 215.3,133.1 212.9,134.5 C210.6,135.9 208.1,137.3 205.5,138.6 C203.0,139.9 200.3,141.1 197.5,142.3 C194.7,143.4 191.8,144.5 188.8,145.4 C185.9,146.4 182.8,147.3 179.7,148.1 C176.6,148.8 173.4,149.5 170.2,150.1 C167.0,150.7 163.7,151.2 160.4,151.6 C157.1,152.0 153.7,152.3 150.4,152.5 C147.0,152.7 143.6,152.8 140.3,152.8 C136.9,152.8 133.5,152.7 130.2,152.5 C126.9,152.3 123.5,152.0 120.2,151.6 C117.0,151.2 113.7,150.7 110.5,150.1 C107.3,149.5 104.2,148.8 101.1,148.1 C98.1,147.3 95.1,146.4 92.2,145.4 C89.3,144.5 86.4,143.4 83.7,142.3 C81.0,141.1 78.4,139.9 75.9,138.6 C73.4,137.3 71.0,135.9 68.8,134.5 C66.5,133.1 64.4,131.5 62.4,130.0 C60.4,128.4 58.5,126.7 56.8,125.0 C55.1,123.3 53.5,121.6 52.1,119.8 C50.7,118.0 49.4,116.1 48.3,114.2 C47.2,112.3 46.2,110.4 45.4,108.4 C44.7,106.5 44.0,104.5 43.5,102.5 C43.1,100.5 42.8,98.4 42.6,96.4 C42.5,94.4 42.5,92.3 42.7,90.3 C42.8,88.2 43.2,86.2 43.7,84.1 C44.1,82.1 44.8,80.1 45.6,78.1 C46.4,76.1 47.4,74.1 48.4,72.1 C49.5,70.2 50.8,68.2 52.2,66.3 C53.6,64.4 55.1,62.6 56.7,60.8 C58.4,59.0 60.2,57.2 62.1,55.5 C64.0,53.8 66.0,52.2 68.1,50.6 C70.3,49.0 72.5,47.5 74.9,46.0 C77.2,44.6 79.7,43.2 82.2,41.9 C84.7,40.6 87.4,39.4 90.1,38.3 C92.8,37.1 95.6,36.1 98.4,35.1 C101.2,34.1 104.1,33.3 107.1,32.5 C110.0,31.7 113.1,31.0 116.1,30.4 C119.1,29.8 122.2,29.3 125.3,28.9 C128.4,28.5 131.6,28.2 134.7,28.0 C137.8,27.8 141.0,27.7 144.1,27.7 C147.3,27.7 150.4,27.8 153.6,28.0 C156.7,28.2 159.8,28.5 162.9,28.9 C166.0,29.3 169.0,29.8 172.0,30.4 C175.0,31.0 178.0,31.7 180.9,32.5 C183.8,33.3 186.7,34.1 189.4,35.1 C192.2,36.1 194.9,37.1 197.6,38.3 C200.2,39.4 202.7,40.6 205.2,41.9 C207.6,43.2 210.0,44.6 212.3,46.0 C214.5,47.5 216.7,49.0 218.7,50.6 C220.8,52.2 222.7,53.8 224.5,55.5 C226.3,57.2 228.0,59.0 229.5,60.8 C231.0,62.6 232.5,64.4 233.7,66.3 C235.0,68.2 236.1,70.2 237.1,72.1 C238.1,74.1 238.9,76.1 239.6,78.1 C240.3,80.1 240.8,82.1 241.1,84.1 C241.5,86.2 241.7,88.2 241.8,90.3Z" transform="translate(0,15.2)" fill="none" stroke="#6a6a6a" stroke-width="1.2" opacity="0.7"/>
<path d="M241.8,90.3 C241.8,92.3 241.7,94.4 241.4,96.4 C241.1,98.4 240.7,100.5 240.1,102.5 C239.5,104.5 238.8,106.5 237.9,108.4 C236.9,110.4 235.9,112.3 234.6,114.2 C233.4,116.1 232.0,118.0 230.5,119.8 C229.0,121.6 227.3,123.3 225.5,125.0 C223.7,126.7 221.7,128.4 219.6,130.0 C217.5,131.5 215.3,133.1 212.9,134.5 C210.6,135.9 208.1,137.3 205.5,138.6 C203.0,139.9 200.3,141.1 197.5,142.3 C194.7,143.4 191.8,144.5 188.8,145.4 C185.9,146.4 182.8,147.3 179.7,148.1 C176.6,148.8 173.4,149.5 170.2,150.1 C167.0,150.7 163.7,151.2 160.4,151.6 C157.1,152.0 153.7,152.3 150.4,152.5 C147.0,152.7 143.6,152.8 140.3,152.8 C136.9,152.8 133.5,152.7 130.2,152.5 C126.9,152.3 123.5,152.0 120.2,151.6 C117.0,151.2 113.7,150.7 110.5,150.1 C107.3,149.5 104.2,148.8 101.1,148.1 C98.1,147.3 95.1,146.4 92.2,145.4 C89.3,144.5 86.4,143.4 83.7,142.3 C81.0,141.1 78.4,139.9 75.9,138.6 C73.4,137.3 71.0,135.9 68.8,134.5 C66.5,133.1 64.4,131.5 62.4,130.0 C60.4,128.4 58.5,126.7 56.8,125.0 C55.1,123.3 53.5,121.6 52.1,119.8 C50.7,118.0 49.4,116.1 48.3,114.2 C47.2,112.3 46.2,110.4 45.4,108.4 C44.7,106.5 44.0,104.5 43.5,102.5 C43.1,100.5 42.8,98.4 42.6,96.4 C42.5,94.4 42.5,92.3 42.7,90.3 C42.8,88.2 43.2,86.2 43.7,84.1 C44.1,82.1 44.8,80.1 45.6,78.1 C46.4,76.1 47.4,74.1 48.4,72.1 C49.5,70.2 50.8,68.2 52.2,66.3 C53.6,64.4 55.1,62.6 56.7,60.8 C58.4,59.0 60.2,57.2 62.1,55.5 C64.0,53.8 66.0,52.2 68.1,50.6 C70.3,49.0 72.5,47.5 74.9,46.0 C77.2,44.6 79.7,43.2 82.2,41.9 C84.7,40.6 87.4,39.4 90.1,38.3 C92.8,37.1 95.6,36.1 98.4,35.1 C101.2,34.1 104.1,33.3 107.1,32.5 C110.0,31.7 113.1,31.0 116.1,30.4 C119.1,29.8 122.2,29.3 125.3,28.9 C128.4,28.5 131.6,28.2 134.7,28.0 C137.8,27.8 141.0,27.7 144.1,27.7 C147.3,27.7 150.4,27.8 153.6,28.0 C156.7,28.2 159.8,28.5 162.9,28.9 C166.0,29.3 169.0,29.8 172.0,30.4 C175.0,31.0 178.0,31.7 180.9,32.5 C183.8,33.3 186.7,34.1 189.4,35.1 C192.2,36.1 194.9,37.1 197.6,38.3 C200.2,39.4 202.7,40.6 205.2,41.9 C207.6,43.2 210.0,44.6 212.3,46.0 C214.5,47.5 216.7,49.0 218.7,50.6 C220.8,52.2 222.7,53.8 224.5,55.5 C226.3,57.2 228.0,59.0 229.5,60.8 C231.0,62.6 232.5,64.4 233.7,66.3 C235.0,68.2 236.1,70.2 237.1,72.1 C238.1,74.1 238.9,76.1 239.6,78.1 C240.3,80.1 240.8,82.1 241.1,84.1 C241.5,86.2 241.7,88.2 241.8,90.3Z" transform="translate(0.5,1.0)" fill="url(#rimg)"/>
<path d="M241.8,90.3 C241.8,92.3 241.7,94.4 241.4,96.4 C241.1,98.4 240.7,100.5 240.1,102.5 C239.5,104.5 238.8,106.5 237.9,108.4 C236.9,110.4 235.9,112.3 234.6,114.2 C233.4,116.1 232.0,118.0 230.5,119.8 C229.0,121.6 227.3,123.3 225.5,125.0 C223.7,126.7 221.7,128.4 219.6,130.0 C217.5,131.5 215.3,133.1 212.9,134.5 C210.6,135.9 208.1,137.3 205.5,138.6 C203.0,139.9 200.3,141.1 197.5,142.3 C194.7,143.4 191.8,144.5 188.8,145.4 C185.9,146.4 182.8,147.3 179.7,148.1 C176.6,148.8 173.4,149.5 170.2,150.1 C167.0,150.7 163.7,151.2 160.4,151.6 C157.1,152.0 153.7,152.3 150.4,152.5 C147.0,152.7 143.6,152.8 140.3,152.8 C136.9,152.8 133.5,152.7 130.2,152.5 C126.9,152.3 123.5,152.0 120.2,151.6 C117.0,151.2 113.7,150.7 110.5,150.1 C107.3,149.5 104.2,148.8 101.1,148.1 C98.1,147.3 95.1,146.4 92.2,145.4 C89.3,144.5 86.4,143.4 83.7,142.3 C81.0,141.1 78.4,139.9 75.9,138.6 C73.4,137.3 71.0,135.9 68.8,134.5 C66.5,133.1 64.4,131.5 62.4,130.0 C60.4,128.4 58.5,126.7 56.8,125.0 C55.1,123.3 53.5,121.6 52.1,119.8 C50.7,118.0 49.4,116.1 48.3,114.2 C47.2,112.3 46.2,110.4 45.4,108.4 C44.7,106.5 44.0,104.5 43.5,102.5 C43.1,100.5 42.8,98.4 42.6,96.4 C42.5,94.4 42.5,92.3 42.7,90.3 C42.8,88.2 43.2,86.2 43.7,84.1 C44.1,82.1 44.8,80.1 45.6,78.1 C46.4,76.1 47.4,74.1 48.4,72.1 C49.5,70.2 50.8,68.2 52.2,66.3 C53.6,64.4 55.1,62.6 56.7,60.8 C58.4,59.0 60.2,57.2 62.1,55.5 C64.0,53.8 66.0,52.2 68.1,50.6 C70.3,49.0 72.5,47.5 74.9,46.0 C77.2,44.6 79.7,43.2 82.2,41.9 C84.7,40.6 87.4,39.4 90.1,38.3 C92.8,37.1 95.6,36.1 98.4,35.1 C101.2,34.1 104.1,33.3 107.1,32.5 C110.0,31.7 113.1,31.0 116.1,30.4 C119.1,29.8 122.2,29.3 125.3,28.9 C128.4,28.5 131.6,28.2 134.7,28.0 C137.8,27.8 141.0,27.7 144.1,27.7 C147.3,27.7 150.4,27.8 153.6,28.0 C156.7,28.2 159.8,28.5 162.9,28.9 C166.0,29.3 169.0,29.8 172.0,30.4 C175.0,31.0 178.0,31.7 180.9,32.5 C183.8,33.3 186.7,34.1 189.4,35.1 C192.2,36.1 194.9,37.1 197.6,38.3 C200.2,39.4 202.7,40.6 205.2,41.9 C207.6,43.2 210.0,44.6 212.3,46.0 C214.5,47.5 216.7,49.0 218.7,50.6 C220.8,52.2 222.7,53.8 224.5,55.5 C226.3,57.2 228.0,59.0 229.5,60.8 C231.0,62.6 232.5,64.4 233.7,66.3 C235.0,68.2 236.1,70.2 237.1,72.1 C238.1,74.1 238.9,76.1 239.6,78.1 C240.3,80.1 240.8,82.1 241.1,84.1 C241.5,86.2 241.7,88.2 241.8,90.3Z" fill="url(#diskg)"/>
<path d="M230,176 Q248,165 258,150" fill="none" stroke="#e8e8e8" stroke-width="1.5" opacity="0.8"/>
<polygon points="31.5,119.5 47,118 46.5,126 31.5,127.5" fill="#1c1c1c"/>
<polygon points="114,163 122,162 123,177 113,177" fill="#3a3a3a"/>
<polygon points="223,146.5 250,158.5 246,166.5 220.5,154.5" fill="#1c1c1c"/>
<polygon points="218,143 223,146.5 220.5,154.5 216,150" fill="#8a8a94" opacity="0.6"/>
<polygon points="244,76 252,72 256,83 248,84" fill="#202020"/>
<polygon points="246,76 252,73 254,79" fill="#e0e0e0"/>
<ellipse cx="143.7" cy="82.6" rx="38" ry="24.3" fill="#5c5e66"/>
<g clip-path="url(#cclip)"><g filter="url(#blur05)">
<polygon points="143.8,80.5 124.3,23.8 133.4,21.4" fill="#d0c850" opacity="0.95"/>
<polygon points="143.8,80.5 133.4,21.4 143.8,20.5" fill="#88d040" opacity="1"/>
<polygon points="143.8,80.5 143.8,20.5 158.3,22.3" fill="#40d048" opacity="1"/>
<polygon points="143.8,80.5 158.3,22.3 167.2,25.3" fill="#70c868" opacity="0.7"/>
<polygon points="143.8,80.5 167.2,25.3 177.4,30.8" fill="#80a080" opacity="0.35"/>
<polygon points="143.8,80.5 85.8,65.0 91.8,50.5" fill="#7050e0" opacity="0.85"/>
<polygon points="143.8,80.5 91.8,50.5 97.8,41.9" fill="#50b070" opacity="0.55"/>
<polygon points="143.8,80.5 97.8,41.9 103.7,35.9" fill="#7070c0" opacity="0.3"/>
<polygon points="143.8,80.5 200.5,61.0 202.3,67.0" fill="#6060f0" opacity="0.9"/>
<polygon points="143.8,80.5 203.2,72.1 203.7,77.4" fill="#8080c0" opacity="0.35"/>
<polygon points="143.8,80.5 203.7,83.6 203.4,87.8" fill="#70d050" opacity="0.8"/>
<polygon points="143.8,80.5 203.4,87.8 202.7,91.9" fill="#f07040" opacity="0.85"/>
<polygon points="143.8,80.5 202.7,91.9 201.5,97.0" fill="#f0d040" opacity="0.8"/>
<polygon points="143.8,80.5 201.5,97.0 199.8,102.0" fill="#50c060" opacity="0.6"/>
<polygon points="143.8,80.5 199.8,102.0 195.8,110.5" fill="#5050f0" opacity="0.95"/>
<polygon points="143.8,80.5 195.8,110.5 192.9,114.9" fill="#50b0b0" opacity="0.6"/>
<polygon points="143.8,80.5 192.9,114.9 185.5,123.7" fill="#5848e8" opacity="0.95"/>
<polygon points="143.8,80.5 185.5,123.7 180.7,127.8" fill="#7070c0" opacity="0.45"/>
<polygon points="143.8,80.5 162.3,137.6 150.1,140.2" fill="#40d840" opacity="1"/>
<polygon points="143.8,80.5 150.1,140.2 137.5,140.2" fill="#48d040" opacity="1"/>
<polygon points="143.8,80.5 137.5,140.2 124.3,137.2" fill="#98d060" opacity="0.85"/>
<polygon points="143.8,80.5 124.3,137.2 115.6,133.5" fill="#90a890" opacity="0.4"/>
<polygon points="143.8,80.5 87.4,101.0 85.8,96.0" fill="#f04858" opacity="0.85"/>
<polygon points="143.8,80.5 84.0,85.7 83.8,82.6" fill="#f0d050" opacity="0.8"/>
<polygon points="143.8,80.5 83.8,82.6 83.8,79.5" fill="#e05050" opacity="0.8"/>
<polygon points="143.8,80.5 83.8,79.5 84.0,75.3" fill="#60c050" opacity="0.75"/>
<polygon points="143.8,80.5 84.0,75.3 84.5,71.1" fill="#a0a060" opacity="0.4"/>
<ellipse cx="143.8" cy="80.5" rx="30" ry="19" fill="url(#cfade)"/>
</g>
</g>
</g>
<text x="40" y="45.4" class="ylab">Unpolished</text>
<polyline points="41.3,51.6 103,51.6 126.8,75.8" fill="none" stroke="#efe032" stroke-width="1.8"/>
<text x="51.6" y="160.1" class="ylab">Polished</text>
<polyline points="49.8,166.6 102,166.6 125.7,142.3" fill="none" stroke="#efe032" stroke-width="1.8"/>
<rect x="178.6" y="79.7" width="8.2" height="6.6" fill="none" stroke="#c8323c" stroke-width="1.1"/>
<line x1="186.8" y1="80" x2="258" y2="18.3" stroke="#c8323c" stroke-width="1.1"/>
<line x1="185" y1="86.3" x2="258" y2="176.5" stroke="#c8323c" stroke-width="1.1"/>
<text x="446.2" y="165.3" class="t12" style="font-size:12px;stroke:#1a1a1a;stroke-width:0.35">10 µm</text>
<rect x="453.6" y="170.7" width="22.8" height="2" fill="#1a1a1a"/>
<rect x="495.2" y="18.2" width="13.8" height="158.3" fill="url(#cbg)"/>
<rect x="495.2" y="18.2" width="13.8" height="158.3" fill="url(#cbs)"/>
<line x1="509" y1="18.90" x2="513.7" y2="18.90" stroke="#1a1a1a" stroke-width="1.3"/>
<text x="517.2" y="23.00" class="t11">4</text>
<line x1="509" y1="38.40" x2="513.7" y2="38.40" stroke="#1a1a1a" stroke-width="1.3"/>
<text x="517.2" y="42.50" class="t11">3</text>
<line x1="509" y1="57.90" x2="513.7" y2="57.90" stroke="#1a1a1a" stroke-width="1.3"/>
<text x="517.2" y="62.00" class="t11">2</text>
<line x1="509" y1="77.40" x2="513.7" y2="77.40" stroke="#1a1a1a" stroke-width="1.3"/>
<text x="517.2" y="81.50" class="t11">1</text>
<line x1="509" y1="96.90" x2="513.7" y2="96.90" stroke="#1a1a1a" stroke-width="1.3"/>
<text x="517.2" y="101.00" class="t11">0</text>
<line x1="509" y1="116.40" x2="513.7" y2="116.40" stroke="#1a1a1a" stroke-width="1.3"/>
<text x="517.2" y="120.50" class="t11">−1</text>
<line x1="509" y1="135.90" x2="513.7" y2="135.90" stroke="#1a1a1a" stroke-width="1.3"/>
<text x="517.2" y="140.00" class="t11">−2</text>
<line x1="509" y1="155.40" x2="513.7" y2="155.40" stroke="#1a1a1a" stroke-width="1.3"/>
<text x="517.2" y="159.50" class="t11">−3</text>
<line x1="509" y1="174.90" x2="513.7" y2="174.90" stroke="#1a1a1a" stroke-width="1.3"/>
<text x="517.2" y="179.00" class="t11">−4</text>
<text x="516.5" y="6" class="t11">nm</text>
<text x="145.2" y="200.4" text-anchor="middle" class="t12" style="font-size:13px">(a)</text>
<text x="372.4" y="200.4" text-anchor="middle" class="t12" style="font-size:13px">(b)</text>
<path d="M40.1,279.1 40.8,278.6 41.8,277.7 43.0,276.8 44.3,275.9 45.6,275.3 46.8,275.0 47.9,275.3 49.1,276.0 50.2,277.0 51.3,278.0 52.5,278.8 53.6,279.1 54.7,278.9 55.9,278.3 57.0,277.4 58.1,276.6 59.3,276.0 60.4,275.8 61.5,276.1 62.6,276.9 63.8,277.8 64.9,278.8 66.0,279.6 67.1,280.0 68.2,280.1 69.4,279.9 70.6,279.5 71.8,279.1 72.9,278.7 73.9,278.3 74.8,278.0 75.7,277.5 76.6,277.1 77.4,276.8 78.2,276.6 79.0,276.6 79.9,277.0 80.7,277.6 81.6,278.5 82.4,279.2 83.3,279.8 84.1,280.0 84.9,279.7 85.8,278.9 86.6,278.0 87.4,277.0 88.3,276.2 89.1,275.8 89.9,275.8 90.7,276.1 91.5,276.5 92.4,277.1 93.3,277.7 94.2,278.3 95.2,279.1 96.3,280.0 97.5,281.1 98.6,282.0 99.8,282.7 100.8,283.0 101.7,282.8 102.6,282.3 103.4,281.5 104.2,280.6 105.1,279.6 106.0,278.8 107.0,278.0 108.1,277.0 109.2,276.1 110.4,275.2 111.4,274.5 112.3,274.2 113.1,274.3 113.8,274.8 114.4,275.5 114.9,276.2 115.5,276.8 116.0,277.0 116.5,276.8 116.9,276.3 117.3,275.7 117.8,275.0 118.2,274.5 118.7,274.2 119.3,274.3 119.8,274.6 120.5,275.0 121.1,275.5 121.8,275.9 122.4,276.0 123.0,275.8 123.7,275.3 124.3,274.8 125.0,274.3 125.7,274.0 126.4,274.2 127.2,274.8 128.0,275.9 128.9,277.1 129.8,278.5 130.7,279.8 131.6,281.0 132.5,282.1 133.4,283.1 134.3,284.1 135.1,285.1 136.0,286.0 136.9,286.8 137.8,287.6 138.7,288.3 139.6,289.0 140.4,289.6 141.3,290.0 142.0,290.2 142.6,290.1 143.2,289.6 143.7,289.0 144.2,288.4 144.8,287.9 145.4,287.6 146.2,287.7 147.0,288.0 148.0,288.4 148.9,288.9 149.7,289.2 150.5,289.3 151.2,289.0 151.7,288.5 152.3,287.8 152.8,287.2 153.3,286.8 153.8,286.8 154.3,287.3 154.9,288.3 155.4,289.5 155.9,290.6 156.5,291.5 157.2,291.8 157.9,291.5 158.7,290.7 159.5,289.6 160.4,288.4 161.3,287.4 162.3,286.8 163.4,286.6 164.5,286.6 165.8,286.8 166.9,287.1 168.1,287.3 169.0,287.6 169.8,288.0 170.3,288.5 170.9,289.1 171.3,289.6 171.9,289.7 172.5,289.3 173.2,288.3 174.0,286.7 174.8,284.8 175.6,282.9 176.5,281.0 177.5,279.5 178.5,278.3 179.6,277.3 180.8,276.3 182.0,275.5 183.2,274.7 184.3,274.0 185.5,273.3 186.7,272.6 187.9,272.1 189.0,271.5 190.1,271.1 191.0,270.7 191.8,270.4 192.4,270.3 192.9,270.3 193.4,270.3 193.9,270.1 194.4,269.8 194.9,269.3 195.4,268.5 195.9,267.7 196.4,266.9 197.0,266.1 197.8,265.6 198.8,265.3 199.9,265.2 201.1,265.2 202.4,265.2 203.6,265.1 204.6,264.8 205.5,264.2 206.3,263.4 207.1,262.4 207.8,261.6 208.5,260.9 209.2,260.5 209.9,260.4 210.6,260.6 211.3,260.9 212.0,261.4 212.8,262.2 213.5,263.1 214.3,264.4 215.0,266.0 215.8,267.8 216.6,269.7 217.4,271.4 218.3,273.0 219.3,274.4 220.3,275.9 221.4,277.2 222.5,278.4 223.6,279.3 224.5,279.8 225.3,279.9 226.0,279.6 226.7,279.0 227.4,278.2 228.0,277.4 228.7,276.6 229.4,275.7 230.0,274.6 230.7,273.5 231.4,272.3 232.1,271.4 232.9,270.7 233.8,270.4 234.8,270.3 235.8,270.5 236.8,270.6 237.8,270.7 238.8,270.7 239.7,270.5 240.5,270.3 241.3,269.9 242.1,269.6 243.0,269.2 243.9,268.7 245.0,268.1 246.1,267.5 247.4,266.8 248.6,266.1 249.7,265.4 250.7,264.8 251.6,264.2 252.3,263.6 253.0,263.0 253.6,262.6 254.2,262.3 254.9,262.2 255.6,262.4 256.3,262.9 257.0,263.5 257.7,264.2 258.4,265.0 259.1,265.6 259.8,266.1 260.5,266.6 261.1,267.0 261.8,267.6 262.6,268.2 263.4,269.0 264.3,270.1 265.3,271.3 266.3,272.8 267.3,274.2 268.3,275.5 269.3,276.6 270.2,277.5 271.1,278.1 272.0,278.7 272.9,279.3 273.7,280.0 274.4,280.8 275.1,281.8 275.7,283.0 276.3,284.3 276.9,285.5 277.4,286.8 277.8,288.0 278.2,289.2 278.4,290.3 278.6,291.5 278.8,292.6 279.1,293.6 279.4,294.4 279.8,295.1 280.3,295.6 280.9,296.0 281.5,296.3 282.1,296.5 282.8,296.6 283.6,296.5 284.4,296.2 285.4,295.8 286.3,295.4 287.1,295.2 287.9,295.2 288.6,295.5 289.1,296.0 289.7,296.7 290.2,297.4 290.7,298.1 291.3,298.6 291.9,299.1 292.5,299.6 293.1,300.0 293.7,300.4 294.4,300.6 295.1,300.5 295.9,300.1 296.8,299.4 297.7,298.6 298.6,297.7 299.4,296.9 300.2,296.3 300.8,295.9 301.3,295.6 301.7,295.3 302.2,295.2 302.8,295.3 303.5,295.5 304.5,296.1 305.6,297.0 306.8,298.1 308.0,299.1 309.2,300.0 310.3,300.5 311.2,300.5 312.1,300.2 312.9,299.7 313.7,299.2 314.5,298.8 315.4,298.8 316.3,299.2 317.3,299.9 318.3,300.8 319.4,301.7 320.4,302.5 321.3,303.1 322.2,303.5 323.1,303.7 324.0,303.9 324.8,304.0 325.6,304.0 326.4,303.9 327.1,303.7 327.8,303.2 328.5,302.7 329.2,302.2 329.9,301.9 330.6,301.9 331.4,302.2 332.2,302.6 333.0,303.3 333.8,304.0 334.7,304.8 335.7,305.6 336.7,306.5 337.8,307.7 339.0,308.8 340.2,309.9 341.4,310.9 342.5,311.5 343.6,311.7 344.8,311.5 346.0,311.2 347.1,310.8 348.2,310.6 349.2,310.7 350.1,311.1 351.0,311.7 351.8,312.5 352.7,313.3 353.5,314.1 354.3,314.9 355.2,315.7 356.0,316.5 356.9,317.3 357.7,318.0 358.6,318.7 359.4,319.1 360.3,319.3 361.1,319.2 362.0,319.0 362.8,318.8 363.7,318.7 364.5,318.8 365.3,319.1 366.2,319.5 367.0,320.0 367.8,320.5 368.7,321.1 369.5,321.7 370.4,322.3 371.2,322.9 372.1,323.6 373.0,324.3 373.8,325.1 374.6,325.9 375.3,326.9 376.0,328.1 376.6,329.3 377.2,330.4 377.8,331.2 378.4,331.6 379.0,331.5 379.5,330.9 380.0,330.1 380.6,329.1 381.1,328.2 381.8,327.4 382.5,326.8 383.3,326.2 384.2,325.7 385.1,325.2 385.9,324.6 386.8,324.0 387.7,323.3 388.5,322.5 389.4,321.7 390.3,321.0 391.1,320.3 391.9,319.8 392.7,319.5 393.4,319.4 394.1,319.4 394.7,319.4 395.5,319.3 396.2,318.9 397.0,318.2 397.8,317.4 398.7,316.3 399.6,315.3 400.4,314.4 401.2,313.8 402.0,313.5 402.7,313.4 403.4,313.5 404.1,313.6 404.8,313.4 405.5,313.0 406.2,312.1 406.8,310.8 407.5,309.4 408.2,308.0 408.9,306.9 409.7,306.2 410.6,306.2 411.6,306.6 412.6,307.3 413.7,308.0 414.7,308.6 415.6,308.8 416.4,308.5 417.1,308.0 417.8,307.3 418.5,306.5 419.2,305.9 420.0,305.6 420.9,305.5 422.0,305.6 423.0,305.9 424.1,306.2 425.1,306.6 426.0,307.0 426.8,307.5 427.5,308.2 428.2,308.9 428.8,309.6 429.4,310.1 430.0,310.5 430.6,310.6 431.1,310.4 431.7,310.1 432.2,309.7 432.8,309.6 433.4,309.6 434.0,309.9 434.7,310.5 435.3,311.2 436.0,311.9 436.8,312.5 437.6,313.0 438.6,313.2 439.6,313.3 440.7,313.3 441.9,313.4 443.1,313.5 444.2,314.0 445.3,314.9 446.5,316.1 447.6,317.5 448.7,318.8 449.9,319.9 451.0,320.4 452.1,320.4 453.2,320.0 454.4,319.3 455.5,318.5 456.6,317.6 457.7,316.7 458.8,315.8 460.0,314.7 461.2,313.5 462.3,312.4 463.4,311.4 464.3,310.6 465.0,310.2 465.5,310.0 466.0,309.9 466.4,309.9 467.0,309.7 467.7,309.3 468.6,308.6 469.7,307.8 470.9,306.9 472.1,305.9 473.3,304.9 474.5,303.8 475.7,302.6 477.1,301.3 478.5,299.9 479.7,298.6 480.8,297.5 481.6,296.7" fill="none" stroke="#d4404c" stroke-width="1.3" stroke-linejoin="round"/>
<path d="M40.1,255.5 40.6,254.8 41.1,252.8 41.6,250.5 42.1,248.5 42.6,247.8 43.1,248.2 43.6,249.5 44.1,251.5 44.6,254.2 45.1,257.6 45.6,261.4 46.1,265.5 46.6,269.8 47.1,274.1 47.6,278.2 48.1,282.0 48.6,285.4 49.1,288.1 49.6,290.1 50.1,291.4 50.6,291.8 51.1,291.6 51.6,290.9 52.2,289.7 52.7,288.2 53.2,286.3 53.7,284.1 54.3,281.7 54.8,279.1 55.3,276.4 55.8,273.7 56.3,271.1 56.9,268.7 57.4,266.5 57.9,264.6 58.4,263.1 59.0,261.9 59.5,261.2 60.0,261.0 60.5,261.4 61.0,262.6 61.5,264.5 62.0,267.1 62.5,270.1 63.0,273.5 63.5,277.1 64.1,280.7 64.6,284.1 65.1,287.1 65.6,289.7 66.1,291.6 66.6,292.8 67.1,293.2 67.6,293.0 68.1,292.3 68.6,291.2 69.1,289.6 69.6,287.7 70.2,285.5 70.7,283.0 71.2,280.3 71.7,277.4 72.2,274.5 72.7,271.6 73.2,268.7 73.7,266.0 74.2,263.5 74.8,261.3 75.3,259.4 75.8,257.8 76.3,256.7 76.8,256.0 77.3,255.8 77.8,256.3 78.3,257.6 78.9,259.7 79.4,262.5 79.9,265.8 80.4,269.4 81.0,273.2 81.5,276.8 82.0,280.1 82.5,282.9 83.1,285.0 83.6,286.3 84.1,286.8 84.6,286.5 85.1,285.8 85.6,284.6 86.2,282.9 86.7,280.9 87.2,278.5 87.7,275.8 88.2,272.9 88.7,269.9 89.3,266.9 89.8,263.9 90.3,261.0 90.8,258.3 91.3,255.9 91.8,253.9 92.4,252.2 92.9,251.0 93.4,250.3 93.9,250.0 94.4,250.4 94.9,251.7 95.4,253.7 95.9,256.4 96.4,259.7 96.9,263.3 97.5,267.1 98.0,270.9 98.5,274.5 99.0,277.8 99.5,280.5 100.0,282.5 100.5,283.8 101.0,284.2 101.5,283.9 102.1,282.9 102.6,281.4 103.1,279.3 103.6,276.9 104.2,274.1 104.7,271.2 105.2,268.4 105.8,265.6 106.3,263.2 106.8,261.1 107.3,259.6 107.9,258.6 108.4,258.3 108.9,258.7 109.4,259.9 109.9,261.7 110.5,264.3 111.0,267.4 111.5,270.9 112.0,274.8 112.5,278.8 113.0,282.7 113.5,286.6 114.0,290.1 114.5,293.2 115.1,295.8 115.6,297.6 116.1,298.8 116.6,299.2 117.1,299.0 117.6,298.5 118.1,297.7 118.7,296.6 119.2,295.1 119.7,293.5 120.2,291.7 120.7,289.7 121.2,287.7 121.8,285.6 122.3,283.6 122.8,281.6 123.3,279.8 123.8,278.2 124.3,276.7 124.9,275.6 125.4,274.8 125.9,274.3 126.4,274.1 126.9,274.6 127.4,276.0 127.9,278.4 128.4,281.4 128.9,285.0 129.4,289.0 130.0,293.1 130.5,297.1 131.0,300.7 131.5,303.7 132.0,306.1 132.5,307.5 133.0,308.0 133.5,307.8 134.0,307.1 134.5,306.0 135.0,304.5 135.6,302.6 136.1,300.4 136.6,298.1 137.1,295.5 137.6,292.9 138.1,290.3 138.6,287.7 139.1,285.4 139.6,283.2 140.2,281.3 140.7,279.8 141.2,278.7 141.7,278.0 142.2,277.8 142.7,278.3 143.3,279.7 143.8,282.0 144.3,285.0 144.9,288.6 145.4,292.5 145.9,296.6 146.4,300.5 147.0,304.1 147.5,307.1 148.0,309.4 148.6,310.8 149.1,311.3 149.6,311.1 150.1,310.3 150.6,309.2 151.1,307.6 151.6,305.6 152.1,303.3 152.6,300.7 153.1,297.9 153.6,295.0 154.1,292.1 154.6,289.2 155.1,286.4 155.6,283.8 156.1,281.5 156.6,279.5 157.1,277.9 157.6,276.8 158.1,276.0 158.6,275.8 159.1,276.2 159.7,277.5 160.2,279.6 160.7,282.4 161.2,285.7 161.8,289.4 162.3,293.3 162.8,297.2 163.4,300.9 163.9,304.2 164.4,307.0 164.9,309.1 165.5,310.4 166.0,310.8 166.5,310.6 167.0,309.8 167.5,308.6 168.0,307.0 168.5,305.0 169.0,302.7 169.5,300.1 170.0,297.3 170.5,294.4 171.0,291.4 171.5,288.5 172.0,285.7 172.5,283.1 173.0,280.8 173.5,278.8 174.0,277.2 174.5,276.0 175.0,275.2 175.5,275.0 176.0,275.4 176.5,276.8 177.1,278.9 177.6,281.6 178.1,284.9 178.6,288.5 179.2,292.2 179.7,295.8 180.2,299.1 180.7,301.8 181.3,303.9 181.8,305.3 182.3,305.7 182.8,305.5 183.3,304.7 183.8,303.5 184.3,301.9 184.8,299.9 185.3,297.5 185.8,294.8 186.3,291.9 186.8,288.8 187.3,285.6 187.8,282.3 188.3,279.1 188.8,276.0 189.3,273.1 189.8,270.4 190.3,268.0 190.8,266.0 191.3,264.4 191.8,263.2 192.3,262.4 192.8,262.2 193.3,262.6 193.9,263.7 194.4,265.4 195.0,267.6 195.5,270.0 196.0,272.4 196.6,274.6 197.1,276.3 197.7,277.4 198.2,277.8 198.7,277.6 199.2,276.9 199.7,275.7 200.2,274.2 200.7,272.2 201.2,269.9 201.7,267.4 202.2,264.5 202.7,261.6 203.2,258.5 203.7,255.3 204.2,252.2 204.7,249.3 205.2,246.5 205.7,243.9 206.2,241.6 206.7,239.6 207.2,238.1 207.7,236.9 208.2,236.2 208.7,236.0 209.2,236.4 209.7,237.4 210.2,239.1 210.7,241.3 211.2,243.9 211.7,246.8 212.2,249.7 212.7,252.6 213.2,255.2 213.7,257.4 214.2,259.1 214.7,260.1 215.2,260.5 215.7,260.3 216.2,259.6 216.8,258.5 217.3,256.9 217.8,255.1 218.3,252.9 218.8,250.5 219.3,247.9 219.8,245.3 220.4,242.7 220.9,240.1 221.4,237.7 221.9,235.5 222.4,233.7 222.9,232.1 223.5,231.0 224.0,230.3 224.5,230.1 225.0,230.5 225.5,231.6 226.1,233.3 226.6,235.7 227.1,238.7 227.6,242.0 228.2,245.8 228.7,249.7 229.2,253.6 229.7,257.5 230.3,261.3 230.8,264.6 231.3,267.6 231.8,270.0 232.4,271.7 232.9,272.8 233.4,273.2 233.9,273.0 234.4,272.3 234.9,271.2 235.4,269.7 235.9,267.9 236.4,265.9 236.9,263.8 237.4,261.5 237.9,259.4 238.4,257.4 238.9,255.6 239.4,254.1 239.9,253.0 240.4,252.3 240.9,252.1 241.4,252.6 242.0,253.9 242.5,256.1 243.0,259.0 243.5,262.5 244.1,266.6 244.6,271.0 245.1,275.6 245.6,280.1 246.2,284.5 246.7,288.6 247.2,292.1 247.7,295.0 248.2,297.2 248.8,298.5 249.3,299.0 249.8,298.9 250.3,298.4 250.8,297.7 251.3,296.8 251.8,295.6 252.3,294.3 252.8,292.8 253.3,291.3 253.8,289.7 254.3,288.2 254.8,286.7 255.3,285.4 255.8,284.2 256.3,283.3 256.8,282.6 257.3,282.1 257.8,282.0 258.3,282.4 258.8,283.4 259.3,285.1 259.8,287.4 260.3,290.1 260.8,293.3 261.3,296.7 261.9,300.3 262.4,303.9 262.9,307.3 263.4,310.5 263.9,313.2 264.4,315.5 264.9,317.2 265.4,318.2 265.9,318.6 266.4,318.3 266.9,317.4 267.4,316.0 267.9,314.0 268.4,311.6 268.9,308.8 269.4,305.8 269.9,302.6 270.4,299.4 270.9,296.2 271.4,293.2 271.9,290.4 272.4,288.0 272.9,286.0 273.4,284.6 273.9,283.7 274.4,283.4 274.9,283.6 275.4,284.2 275.9,285.2 276.4,286.5 276.9,288.1 277.4,289.9 277.9,291.9 278.4,293.9 279.0,296.0 279.5,298.0 280.0,299.8 280.5,301.4 281.0,302.7 281.5,303.7 282.0,304.3 282.5,304.5 283.0,304.3 283.5,303.6 284.0,302.5 284.6,300.9 285.1,299.1 285.6,297.0 286.1,294.7 286.6,292.4 287.1,290.0 287.6,287.7 288.1,285.6 288.6,283.8 289.2,282.2 289.7,281.1 290.2,280.4 290.7,280.2 291.2,280.6 291.7,281.7 292.2,283.6 292.7,286.0 293.2,289.0 293.7,292.5 294.2,296.2 294.8,300.1 295.3,304.0 295.8,307.7 296.3,311.2 296.8,314.2 297.3,316.6 297.8,318.5 298.3,319.6 298.8,320.0 299.3,319.7 299.8,318.9 300.3,317.6 300.8,315.9 301.3,313.8 301.8,311.4 302.3,308.8 302.9,306.1 303.4,303.3 303.9,300.7 304.4,298.3 304.9,296.2 305.4,294.5 305.9,293.2 306.4,292.4 306.9,292.1 307.4,292.5 307.9,293.5 308.4,295.2 308.9,297.5 309.4,300.4 309.9,303.6 310.4,307.1 310.9,310.7 311.5,314.3 312.0,317.8 312.5,321.0 313.0,323.9 313.5,326.2 314.0,327.9 314.5,328.9 315.0,329.3 315.5,329.0 316.0,328.1 316.5,326.6 317.0,324.6 317.6,322.2 318.1,319.4 318.6,316.2 319.1,312.9 319.6,309.4 320.1,305.9 320.6,302.6 321.1,299.4 321.6,296.6 322.2,294.2 322.7,292.2 323.2,290.7 323.7,289.8 324.2,289.5 324.7,289.9 325.2,291.1 325.8,292.9 326.3,295.4 326.8,298.4 327.3,301.7 327.9,305.2 328.4,308.8 328.9,312.1 329.4,315.1 329.9,317.6 330.5,319.4 331.0,320.6 331.5,321.0 332.0,320.8 332.5,320.1 333.0,319.0 333.5,317.5 334.0,315.6 334.5,313.5 335.0,311.1 335.5,308.5 336.0,305.8 336.6,303.0 337.1,300.3 337.6,297.7 338.1,295.3 338.6,293.2 339.1,291.3 339.6,289.8 340.1,288.7 340.6,288.0 341.1,287.8 341.6,288.2 342.1,289.2 342.7,290.9 343.2,293.1 343.7,295.9 344.2,298.9 344.7,302.2 345.3,305.6 345.8,308.9 346.3,311.9 346.8,314.7 347.3,316.9 347.9,318.6 348.4,319.6 348.9,320.0 349.4,319.7 349.9,318.8 350.4,317.3 350.9,315.4 351.4,313.1 351.9,310.5 352.4,307.8 353.0,305.0 353.5,302.4 354.0,300.1 354.5,298.2 355.0,296.7 355.5,295.8 356.0,295.5 356.5,295.8 357.0,296.9 357.6,298.5 358.1,300.7 358.6,303.5 359.1,306.6 359.6,310.1 360.1,313.7 360.7,317.5 361.2,321.1 361.7,324.6 362.2,327.7 362.7,330.5 363.2,332.7 363.8,334.3 364.3,335.4 364.8,335.7 365.3,335.5 365.8,334.9 366.3,334.0 366.8,332.7 367.4,331.1 367.9,329.3 368.4,327.3 368.9,325.1 369.4,322.8 369.9,320.4 370.4,318.1 370.9,315.9 371.4,313.9 371.9,312.1 372.5,310.5 373.0,309.2 373.5,308.3 374.0,307.7 374.5,307.5 375.0,308.0 375.6,309.4 376.1,311.7 376.6,314.7 377.2,318.3 377.7,322.2 378.2,326.2 378.7,330.1 379.3,333.7 379.8,336.7 380.3,339.0 380.9,340.4 381.4,340.9 381.9,340.6 382.4,339.8 382.9,338.4 383.4,336.6 384.0,334.3 384.5,331.7 385.0,328.8 385.5,325.7 386.0,322.4 386.5,319.2 387.0,316.1 387.5,313.2 388.0,310.6 388.6,308.3 389.1,306.5 389.6,305.1 390.1,304.3 390.6,304.0 391.1,304.4 391.6,305.4 392.1,307.0 392.7,309.2 393.2,311.8 393.7,314.6 394.2,317.6 394.7,320.4 395.2,323.0 395.8,325.2 396.3,326.8 396.8,327.8 397.3,328.2 397.8,328.0 398.3,327.3 398.8,326.2 399.3,324.8 399.9,322.9 400.4,320.8 400.9,318.4 401.4,315.9 401.9,313.2 402.4,310.5 402.9,307.8 403.4,305.3 403.9,302.9 404.4,300.8 405.0,298.9 405.5,297.5 406.0,296.4 406.5,295.7 407.0,295.5 407.5,295.8 408.1,296.8 408.6,298.3 409.1,300.4 409.6,302.9 410.2,305.6 410.7,308.6 411.2,311.5 411.8,314.2 412.3,316.7 412.8,318.8 413.3,320.3 413.9,321.3 414.4,321.6 414.9,321.3 415.4,320.4 415.9,318.9 416.4,316.8 417.0,314.4 417.5,311.5 418.0,308.5 418.5,305.3 419.0,302.1 419.5,299.1 420.0,296.2 420.6,293.8 421.1,291.7 421.6,290.2 422.1,289.3 422.6,289.0 423.1,289.4 423.6,290.5 424.2,292.3 424.7,294.7 425.2,297.6 425.7,300.9 426.2,304.6 426.8,308.3 427.3,312.1 427.8,315.8 428.3,319.1 428.8,322.0 429.3,324.4 429.9,326.2 430.4,327.3 430.9,327.7 431.4,327.5 431.9,326.8 432.4,325.8 432.9,324.3 433.4,322.6 433.9,320.6 434.4,318.4 434.9,316.2 435.5,313.9 436.0,311.7 436.5,309.7 437.0,308.0 437.5,306.5 438.0,305.5 438.5,304.8 439.0,304.6 439.5,304.9 440.0,305.8 440.5,307.2 441.0,309.1 441.5,311.4 442.0,314.1 442.5,317.1 443.0,320.2 443.6,323.4 444.1,326.5 444.6,329.5 445.1,332.2 445.6,334.5 446.1,336.4 446.6,337.8 447.1,338.7 447.6,339.0 448.1,338.7 448.6,337.8 449.1,336.3 449.7,334.2 450.2,331.8 450.7,329.0 451.2,325.9 451.7,322.8 452.2,319.6 452.7,316.5 453.2,313.7 453.8,311.3 454.3,309.2 454.8,307.7 455.3,306.8 455.8,306.5 456.3,306.8 456.8,307.8 457.3,309.4 457.9,311.5 458.4,314.1 458.9,317.0 459.4,320.2 459.9,323.5 460.4,326.8 460.9,330.0 461.4,332.9 461.9,335.5 462.5,337.6 463.0,339.2 463.5,340.2 464.0,340.5 464.5,340.1 465.1,339.1 465.6,337.4 466.1,335.1 466.6,332.3 467.1,329.1 467.7,325.6 468.2,322.0 468.7,318.4 469.2,314.9 469.8,311.7 470.3,308.9 470.8,306.6 471.3,304.9 471.9,303.9 472.4,303.5 472.9,303.8 473.4,304.6 473.9,306.0 474.4,307.9 474.9,310.2 475.4,312.8 475.9,315.6 476.4,318.6 476.9,321.5 477.4,324.3 477.9,326.9 478.4,329.2 478.9,331.1 479.4,332.5 479.9,333.3 480.4,333.6 480.9,332.8 481.5,331.3 482.0,330.5" fill="none" stroke="#484848" stroke-width="1.25" stroke-linejoin="round"/>
<rect x="30.75" y="217" width="456.75" height="138.1" fill="none" stroke="#1a1a1a" stroke-width="1.5"/>
<line x1="30.75" y1="340.80" x2="35.8" y2="340.80" stroke="#1a1a1a" stroke-width="1.5"/>
<text x="26" y="345.20" text-anchor="end" class="t12">−2</text>
<line x1="30.75" y1="313.22" x2="35.8" y2="313.22" stroke="#1a1a1a" stroke-width="1.5"/>
<text x="26" y="317.62" text-anchor="end" class="t12">−1</text>
<line x1="30.75" y1="285.65" x2="35.8" y2="285.65" stroke="#1a1a1a" stroke-width="1.5"/>
<text x="26" y="290.05" text-anchor="end" class="t12">0</text>
<line x1="30.75" y1="258.07" x2="35.8" y2="258.07" stroke="#1a1a1a" stroke-width="1.5"/>
<text x="26" y="262.47" text-anchor="end" class="t12">1</text>
<line x1="30.75" y1="230.50" x2="35.8" y2="230.50" stroke="#1a1a1a" stroke-width="1.5"/>
<text x="26" y="234.90" text-anchor="end" class="t12">2</text>
<line x1="28.9" y1="327.01" x2="33.3" y2="327.01" stroke="#1a1a1a" stroke-width="1.6"/>
<line x1="28.9" y1="299.44" x2="33.3" y2="299.44" stroke="#1a1a1a" stroke-width="1.6"/>
<line x1="28.9" y1="271.86" x2="33.3" y2="271.86" stroke="#1a1a1a" stroke-width="1.6"/>
<line x1="28.9" y1="244.29" x2="33.3" y2="244.29" stroke="#1a1a1a" stroke-width="1.6"/>
<line x1="38.90" y1="355.1" x2="38.90" y2="350.2" stroke="#1a1a1a" stroke-width="1.5"/>
<text x="38.90" y="368.6" text-anchor="middle" class="t12">0</text>
<line x1="121.96" y1="355.1" x2="121.96" y2="350.2" stroke="#1a1a1a" stroke-width="1.5"/>
<text x="121.96" y="368.6" text-anchor="middle" class="t12">10</text>
<line x1="205.02" y1="355.1" x2="205.02" y2="350.2" stroke="#1a1a1a" stroke-width="1.5"/>
<text x="205.02" y="368.6" text-anchor="middle" class="t12">20</text>
<line x1="288.08" y1="355.1" x2="288.08" y2="350.2" stroke="#1a1a1a" stroke-width="1.5"/>
<text x="288.08" y="368.6" text-anchor="middle" class="t12">30</text>
<line x1="371.14" y1="355.1" x2="371.14" y2="350.2" stroke="#1a1a1a" stroke-width="1.5"/>
<text x="371.14" y="368.6" text-anchor="middle" class="t12">40</text>
<line x1="454.20" y1="355.1" x2="454.20" y2="350.2" stroke="#1a1a1a" stroke-width="1.5"/>
<text x="454.20" y="368.6" text-anchor="middle" class="t12">50</text>
<line x1="80.43" y1="355.1" x2="80.43" y2="352.9" stroke="#1a1a1a" stroke-width="1.5"/>
<line x1="163.49" y1="355.1" x2="163.49" y2="352.9" stroke="#1a1a1a" stroke-width="1.5"/>
<line x1="246.55" y1="355.1" x2="246.55" y2="352.9" stroke="#1a1a1a" stroke-width="1.5"/>
<line x1="329.61" y1="355.1" x2="329.61" y2="352.9" stroke="#1a1a1a" stroke-width="1.5"/>
<line x1="412.67" y1="355.1" x2="412.67" y2="352.9" stroke="#1a1a1a" stroke-width="1.5"/>
<text x="239.9" y="381.4" class="t12"><tspan font-style="italic">x</tspan>/µm</text>
<text transform="translate(9.4,293.8) rotate(-90)" text-anchor="middle" class="t12" style="font-size:12px">z/nm</text>
<text x="42.3" y="236.3" class="t12" style="font-size:12px">(c)</text>
<line x1="364.6" y1="230.2" x2="398" y2="230.2" stroke="#484848" stroke-width="1.25"/>
<line x1="364.6" y1="248.8" x2="398" y2="248.8" stroke="#d4404c" stroke-width="1.3"/>
<text x="406.6" y="233.6" class="t12" style="font-size:12.3px">Unpolished</text>
<text x="406.6" y="252.2" class="t12" style="font-size:12.3px">Polished</text>
</svg>
</body></html>
